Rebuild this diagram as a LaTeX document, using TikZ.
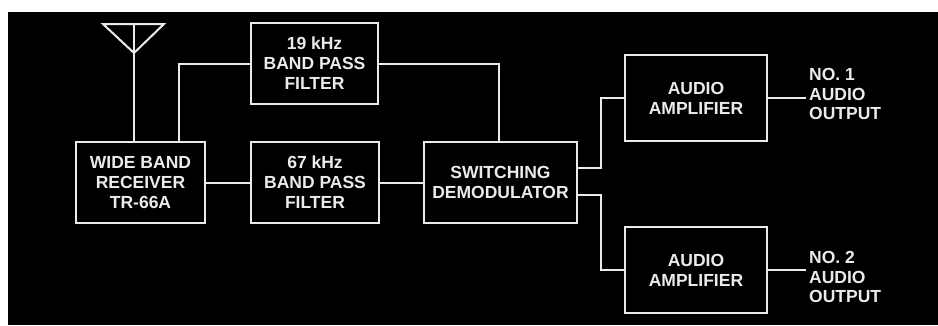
\documentclass[tikz,border=0pt]{standalone}
\usepackage{fontspec}
\setsansfont{Liberation Sans}
\usetikzlibrary{calc}
\usetikzlibrary{positioning}

\begin{document}
\begin{tikzpicture}[x=1pt, y=-1pt,
  blk/.style={draw=white!92!black, line width=2.6pt, text=white!92!black, align=center,
    font=\sffamily\bfseries\fontsize{17.5}{20}\selectfont, minimum height=81pt, inner sep=2pt},
  wire/.style={draw=white!92!black, line width=2pt},
  outlbl/.style={text=white!92!black, align=left, anchor=west, inner sep=3pt,
    font=\sffamily\bfseries\fontsize{17.5}{19.5}\selectfont}]
\useasboundingbox (0,0) rectangle (938,325);
\fill[white] (0,0) rectangle (938,325);
\fill[black] (8,12) rectangle (938,325);
\node[blk, minimum width=129pt] (rx) at (140.5,182.5) {WIDE BAND\\RECEIVER\\TR-66A};
\node[blk, minimum width=127pt] (bpf19) at (314.5,63.5) {19 kHz\\BAND PASS\\FILTER};
\node[blk, minimum width=128pt] (bpf67) at (315,182.5) {67 kHz\\BAND PASS\\FILTER};
\node[blk, minimum width=153pt] (sw) at (500.5,182.5) {SWITCHING\\DEMODULATOR};
\node[blk, minimum width=142pt, minimum height=86pt] (amp1) at (696,98) {AUDIO\\AMPLIFIER};
\node[blk, minimum width=142pt, minimum height=86pt] (amp2) at (696,270) {AUDIO\\AMPLIFIER};
\node[outlbl] (out1) at (806,94) {NO. 1\\AUDIO\\OUTPUT};
\node[outlbl] (out2) at (806,277) {NO. 2\\AUDIO\\OUTPUT};
\coordinate (ant) at (134,24);
\draw[wire, line join=miter] (103,24) -- (164,24) -- (134,53) -- cycle;
\draw[wire] (ant) -- (ant |- rx.north);
\draw[wire] ([xshift=38.5pt]rx.north) |- (bpf19.west);
\draw[wire] (rx.east) -- (bpf67.west);
\draw[wire] (bpf67.east) -- (sw.west);
\draw[wire] (bpf19.east) -| ([xshift=-1.5pt]sw.north);
\draw[wire] ([yshift=14.5pt]sw.east) -- ++(23,0) |- (amp1.west);
\draw[wire] ([yshift=-12.5pt]sw.east) -- ++(23,0) |- (amp2.west);
\draw[wire] (amp1.east) -- (amp1.east -| out1.west);
\draw[wire] (amp2.east) -- (amp2.east -| out2.west);
\end{tikzpicture}
\end{document}
